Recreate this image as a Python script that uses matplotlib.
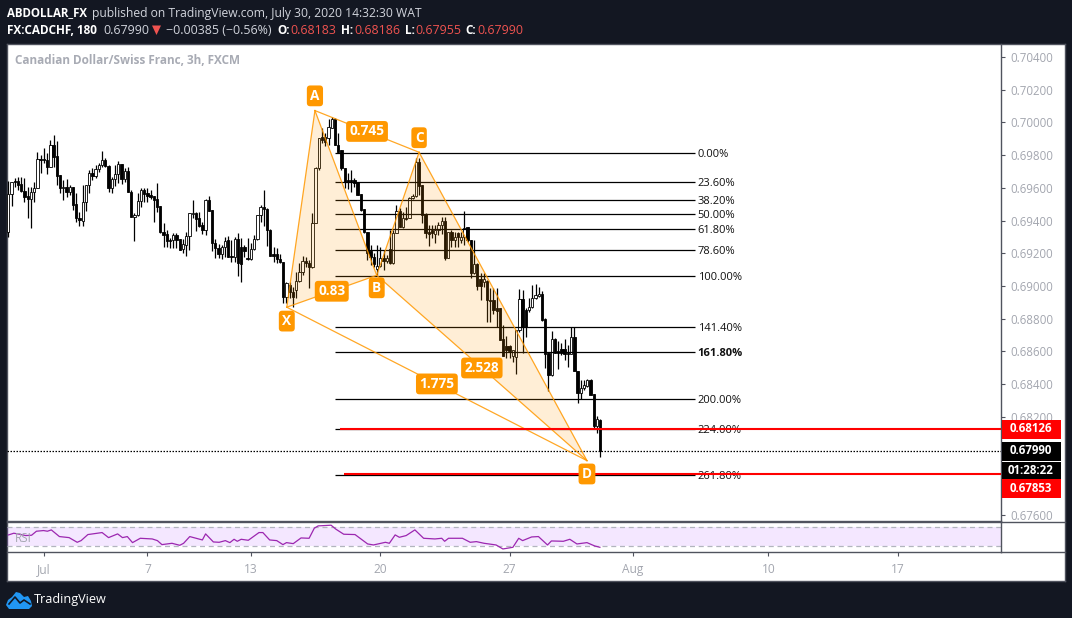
# plot.py - CADCHF 3h chart with harmonic pattern, fib levels and RSI
import matplotlib
matplotlib.use("Agg")
import matplotlib.pyplot as plt
from matplotlib.patches import Rectangle, Polygon

# -------------------------------
# DATA
# -------------------------------
opens = [
    0.69332, 0.69560, 0.69641, 0.69641, 0.69621, 0.69582, 0.69550, 0.69533, 0.69572, 0.69597,
    0.69774, 0.69774, 0.69770, 0.69729, 0.69862, 0.69794, 0.69678, 0.69597, 0.69607, 0.69576,
    0.69605, 0.69501, 0.69413, 0.69399, 0.69511, 0.69615, 0.69688, 0.69674, 0.69713, 0.69739,
    0.69768, 0.69733, 0.69601, 0.69652, 0.69682, 0.69743, 0.69656, 0.69703, 0.69572, 0.69423,
    0.69434, 0.69521, 0.69584, 0.69566, 0.69556, 0.69550, 0.69531, 0.69489, 0.69332, 0.69317,
    0.69281, 0.69279, 0.69309, 0.69285, 0.69224, 0.69250, 0.69303, 0.69442, 0.69446, 0.69413,
    0.69372, 0.69342, 0.69525, 0.69462, 0.69264, 0.69234, 0.69195, 0.69240, 0.69279, 0.69183,
    0.69179, 0.69287, 0.69236, 0.69236, 0.69173, 0.69163, 0.69224, 0.69285, 0.69434, 0.69481,
    0.69470, 0.69342, 0.69193, 0.69193, 0.69163, 0.69148, 0.68934, 0.69006, 0.68965, 0.68975,
    0.69032, 0.69087, 0.69155, 0.69138, 0.69114, 0.69387, 0.69719, 0.69909, 0.69909, 0.69903,
    0.69964, 0.70019, 0.69862, 0.69831, 0.69719, 0.69648, 0.69648, 0.69648, 0.69634, 0.69560,
    0.69470, 0.69328, 0.69214, 0.69179, 0.69104, 0.69124, 0.69169, 0.69152, 0.69224, 0.69138,
    0.69322, 0.69460, 0.69358, 0.69417, 0.69417, 0.69536, 0.69550, 0.69760, 0.69617, 0.69438,
    0.69332, 0.69342, 0.69318, 0.69342, 0.69373, 0.69397, 0.69173, 0.69328, 0.69281, 0.69322,
    0.69281, 0.69301, 0.69359, 0.69282, 0.69078, 0.69133, 0.69043, 0.69027, 0.69033, 0.68915,
    0.68911, 0.68864, 0.68864, 0.68674, 0.68634, 0.68634, 0.68572, 0.68568, 0.68731, 0.68919,
    0.68854, 0.68850, 0.68870, 0.68925, 0.68939, 0.68949, 0.68799, 0.68589, 0.68456, 0.68676,
    0.68605, 0.68613, 0.68613, 0.68593, 0.68585, 0.68686, 0.68483, 0.68348, 0.68375, 0.68391,
    0.68426, 0.68338, 0.68144, 0.68183,
]
closes = [
    0.69560, 0.69633, 0.69633, 0.69617, 0.69582, 0.69546, 0.69533, 0.69572, 0.69597, 0.69774,
    0.69770, 0.69768, 0.69729, 0.69862, 0.69790, 0.69672, 0.69597, 0.69607, 0.69576, 0.69607,
    0.69495, 0.69413, 0.69403, 0.69511, 0.69615, 0.69688, 0.69674, 0.69713, 0.69739, 0.69768,
    0.69733, 0.69601, 0.69656, 0.69682, 0.69743, 0.69656, 0.69701, 0.69572, 0.69423, 0.69434,
    0.69521, 0.69584, 0.69562, 0.69550, 0.69546, 0.69525, 0.69485, 0.69332, 0.69311, 0.69277,
    0.69277, 0.69309, 0.69281, 0.69220, 0.69254, 0.69303, 0.69444, 0.69446, 0.69411, 0.69368,
    0.69342, 0.69525, 0.69460, 0.69264, 0.69234, 0.69195, 0.69240, 0.69277, 0.69179, 0.69179,
    0.69287, 0.69138, 0.69134, 0.69215, 0.69163, 0.69224, 0.69285, 0.69434, 0.69483, 0.69468,
    0.69342, 0.69185, 0.69185, 0.69163, 0.69148, 0.68934, 0.69016, 0.68965, 0.68934, 0.69032,
    0.69087, 0.69155, 0.69138, 0.69114, 0.69387, 0.69719, 0.69903, 0.69892, 0.69882, 0.69970,
    0.70019, 0.69862, 0.69821, 0.69719, 0.69638, 0.69634, 0.69634, 0.69627, 0.69556, 0.69464,
    0.69328, 0.69199, 0.69179, 0.69132, 0.69124, 0.69169, 0.69152, 0.69169, 0.69138, 0.69322,
    0.69460, 0.69362, 0.69413, 0.69409, 0.69536, 0.69550, 0.69760, 0.69613, 0.69434, 0.69322,
    0.69318, 0.69322, 0.69342, 0.69373, 0.69397, 0.69173, 0.69328, 0.69281, 0.69301, 0.69301,
    0.69301, 0.69356, 0.69282, 0.69078, 0.69133, 0.69000, 0.69000, 0.69043, 0.68911, 0.68905,
    0.68850, 0.68848, 0.68670, 0.68574, 0.68609, 0.68605, 0.68609, 0.68731, 0.68919, 0.68752,
    0.68752, 0.68870, 0.68925, 0.68945, 0.68949, 0.68792, 0.68585, 0.68456, 0.68676, 0.68593,
    0.68593, 0.68593, 0.68585, 0.68585, 0.68686, 0.68483, 0.68348, 0.68375, 0.68395, 0.68426,
    0.68334, 0.68144, 0.68185, 0.67990,
]
highs = [
    0.69641, 0.69637, 0.69658, 0.69664, 0.69664, 0.69658, 0.69607, 0.69607, 0.69637, 0.69821,
    0.69800, 0.69841, 0.69811, 0.69892, 0.69923, 0.69886, 0.69678, 0.69648, 0.69652, 0.69617,
    0.69605, 0.69566, 0.69454, 0.69617, 0.69615, 0.69709, 0.69719, 0.69739, 0.69749, 0.69825,
    0.69780, 0.69739, 0.69668, 0.69739, 0.69764, 0.69743, 0.69719, 0.69725, 0.69586, 0.69444,
    0.69566, 0.69597, 0.69601, 0.69597, 0.69586, 0.69550, 0.69627, 0.69489, 0.69383, 0.69342,
    0.69291, 0.69326, 0.69326, 0.69285, 0.69285, 0.69332, 0.69448, 0.69525, 0.69454, 0.69454,
    0.69393, 0.69529, 0.69552, 0.69462, 0.69285, 0.69256, 0.69250, 0.69297, 0.69305, 0.69281,
    0.69301, 0.69326, 0.69291, 0.69250, 0.69291, 0.69260, 0.69311, 0.69434, 0.69495, 0.69586,
    0.69474, 0.69346, 0.69240, 0.69230, 0.69195, 0.69148, 0.69026, 0.69026, 0.68995, 0.69087,
    0.69138, 0.69185, 0.69179, 0.69159, 0.69444, 0.69729, 0.69903, 0.69964, 0.69933, 0.70019,
    0.70035, 0.70025, 0.69933, 0.69831, 0.69719, 0.69688, 0.69709, 0.69658, 0.69634, 0.69560,
    0.69470, 0.69332, 0.69250, 0.69199, 0.69250, 0.69240, 0.69220, 0.69189, 0.69342, 0.69342,
    0.69495, 0.69474, 0.69454, 0.69485, 0.69546, 0.69560, 0.69780, 0.69780, 0.69617, 0.69444,
    0.69373, 0.69373, 0.69373, 0.69393, 0.69423, 0.69423, 0.69332, 0.69342, 0.69332, 0.69332,
    0.69332, 0.69458, 0.69363, 0.69282, 0.69278, 0.69139, 0.69078, 0.69078, 0.69037, 0.68986,
    0.68986, 0.68986, 0.68864, 0.68762, 0.68691, 0.68640, 0.68609, 0.68731, 0.68980, 0.68976,
    0.68864, 0.68925, 0.69006, 0.69013, 0.68992, 0.68970, 0.68803, 0.68589, 0.68725, 0.68680,
    0.68666, 0.68650, 0.68674, 0.68640, 0.68752, 0.68752, 0.68483, 0.68426, 0.68422, 0.68430,
    0.68430, 0.68338, 0.68206, 0.68186,
]
lows = [
    0.69301, 0.69489, 0.69607, 0.69586, 0.69576, 0.69515, 0.69413, 0.69352, 0.69515, 0.69597,
    0.69692, 0.69749, 0.69684, 0.69725, 0.69729, 0.69617, 0.69566, 0.69525, 0.69542, 0.69556,
    0.69464, 0.69393, 0.69368, 0.69368, 0.69460, 0.69566, 0.69648, 0.69658, 0.69699, 0.69729,
    0.69725, 0.69576, 0.69570, 0.69613, 0.69627, 0.69621, 0.69637, 0.69572, 0.69419, 0.69275,
    0.69427, 0.69485, 0.69515, 0.69515, 0.69529, 0.69393, 0.69454, 0.69326, 0.69240, 0.69240,
    0.69234, 0.69230, 0.69230, 0.69220, 0.69199, 0.69185, 0.69220, 0.69413, 0.69338, 0.69362,
    0.69317, 0.69311, 0.69458, 0.69215, 0.69169, 0.69169, 0.69163, 0.69179, 0.69179, 0.69148,
    0.69148, 0.69063, 0.69022, 0.69179, 0.69159, 0.69159, 0.69220, 0.69281, 0.69393, 0.69366,
    0.69246, 0.69185, 0.69148, 0.69138, 0.69142, 0.68898, 0.68894, 0.68924, 0.68873, 0.68924,
    0.69026, 0.69067, 0.69118, 0.68985, 0.69108, 0.69383, 0.69709, 0.69872, 0.69856, 0.69862,
    0.69964, 0.69862, 0.69815, 0.69709, 0.69597, 0.69591, 0.69576, 0.69607, 0.69556, 0.69460,
    0.69322, 0.69159, 0.69128, 0.69118, 0.69067, 0.69118, 0.69098, 0.69138, 0.69134, 0.69134,
    0.69322, 0.69362, 0.69352, 0.69403, 0.69413, 0.69530, 0.69546, 0.69556, 0.69383, 0.69291,
    0.69246, 0.69291, 0.69260, 0.69311, 0.69318, 0.69159, 0.69169, 0.69240, 0.69240, 0.69240,
    0.69260, 0.69250, 0.69271, 0.69047, 0.69074, 0.68976, 0.68911, 0.68996, 0.68782, 0.68782,
    0.68829, 0.68752, 0.68670, 0.68574, 0.68558, 0.68558, 0.68532, 0.68462, 0.68721, 0.68593,
    0.68686, 0.68843, 0.68864, 0.68919, 0.68935, 0.68788, 0.68501, 0.68358, 0.68452, 0.68589,
    0.68491, 0.68578, 0.68548, 0.68503, 0.68583, 0.68483, 0.68283, 0.68307, 0.68364, 0.68385,
    0.68334, 0.68130, 0.68100, 0.67955,
]

# RSI polyline vertices (bar position, value)
rsi_bars = [
    0.1, 1.7, 3.5, 5.4, 7.2, 8.7, 10.9, 12.1, 13.3, 15.8, 18.8, 21.3, 22.5, 24.6, 26.8, 29, 31, 33.8,
    35.3, 36.8, 38.4, 40.8, 44.5, 46.1, 47.5, 50.6, 53, 54.2, 56.1, 60, 61, 63.4, 65.2, 67.1, 68.5,
    69.8, 70.8, 72, 74.2, 77.5, 78.7, 80.8, 83, 84.9, 86, 88.1, 90.5, 93, 94.6, 95.8, 99.8, 101.3,
    103.7, 107.2, 111.1, 112.9, 116.6, 117.8, 119.6, 120.9, 123, 125.7, 128.4, 131.9, 134, 134.9,
    136.1, 140.4, 142.8, 144.7, 147.1, 150.8, 152.9, 156, 157.8, 159, 161.8, 163.9, 166.7, 167.9,
    171.6, 173.6, 175.8, 178.9, 181.3, 182.9,
]
rsi_vals = [
    53.9, 57.4, 55.3, 52.5, 53.2, 61.6, 63, 61.6, 64.4, 50.4, 48.2, 38.4, 41.9, 54.6, 56.7, 58.8, 48.2, 56,
    48.2, 50.4, 37.7, 46.8, 45.4, 41.9, 33.5, 36.3, 32.1, 36.3, 50.4, 43.3, 56, 39.1, 38.4, 41.9, 37.7,
    44.7, 40.5, 44.7, 42.6, 58.8, 58.8, 43.3, 41.9, 33.5, 37.7, 35.6, 47.5, 46.8, 67.9, 72.8, 74.2, 65.8,
    55.3, 54.6, 34.9, 32.8, 38.4, 36.3, 53.9, 48.9, 52.5, 64.4, 46.8, 45.4, 46.8, 40.5,
    46.8, 46.8, 38.4, 39.8, 36.3, 32.8, 24.4, 27.9, 46.8, 41.9, 49.6, 50.4, 32.8, 41.2,
    40.5, 44.7, 34.9, 37.7, 30.7, 27.9,
]

# harmonic pattern points X A B C D
pattern_bars = [86.1, 94.8, 113.9, 127.0, 178.9]
pattern_prices = [0.68870, 0.70072, 0.69065, 0.69817, 0.67932]
pattern_names = ["X", "A", "B", "C", "D"]
ratio_labels = ["0.83", "0.745", "2.528", "1.775"]

# fib levels
fib_labels = ["0.00%", "23.60%", "38.20%", "50.00%", "61.80%", "78.60%", "100.00%",
              "141.40%", "161.80%", "200.00%", "224.00%", "261.80%"]
fib_prices = [0.69813, 0.69636, 0.69526, 0.69437, 0.69348, 0.69222, 0.69061,
              0.68750, 0.68596, 0.68309, 0.68128, 0.67844]
fib_start = 101.0
fib_end = 212.2

price_ticks = [0.676, 0.678, 0.680, 0.682, 0.684, 0.686, 0.688, 0.690,
               0.692, 0.694, 0.696, 0.698, 0.700, 0.702, 0.704]
# these two sit fully behind the price tags
hidden_ticks = [0.678, 0.680]
date_ticks = [11, 43, 75, 115, 155, 193, 235, 275]
date_labels = ["Jul", "7", "13", "20", "27", "Aug", "10", "17"]

last_price = 0.67990
red_lines = [0.68126, 0.67853]
red_starts = [102.5, 103.8]

DARK = "#131722"
FRAME = "#50535e"
GREY = "#a3a6af"
ORANGE = "#ff9800"
FONT = "Open Sans"

# -------------------------------
# FIGURE + AXES
# -------------------------------
W, H = 1072, 618
fig = plt.figure(figsize=(W / 100, H / 100), dpi=100, facecolor=DARK)
plt.rcParams["font.family"] = FONT


def box(x0, y0, x1, y1):
    return [x0 / W, 1 - y1 / H, (x1 - x0) / W, (y1 - y0) / H]


# white panel behind everything
panel = fig.add_axes(box(7, 44, 1065, 581), facecolor="white")
panel.set_xticks([])
panel.set_yticks([])
for s in panel.spines.values():
    s.set_color(FRAME)
    s.set_linewidth(1)

ax = fig.add_axes(box(7, 44, 1001, 521), facecolor="none")
ax_rsi = fig.add_axes(box(7, 521.5, 1001, 552.3), facecolor="none")

xlim = (-0.4, 306.9)
ax.set_xlim(xlim)
ax.set_ylim(0.67563, 0.70479)
ax_rsi.set_xlim(xlim)
ax_rsi.set_ylim(17.4, 82)

# -------------------------------
# PRICE PANE
# -------------------------------
ax.set_xticks([])
ax.yaxis.tick_right()
ax.set_yticks(price_ticks)
ax.set_yticklabels(["" if p in hidden_ticks else f"{p:.5f}" for p in price_ticks], fontsize=8.3, color=GREY)
ax.tick_params(axis="y", length=3, width=0.8, color=FRAME, pad=4)
for name, s in ax.spines.items():
    s.set_visible(name in ("right", "bottom"))
    s.set_color(FRAME)
    s.set_linewidth(1)

# candles
for i in range(len(opens)):
    o, h, l, c = opens[i], highs[i], lows[i], closes[i]
    ax.vlines(i, l, h, color="black", linewidth=0.9, zorder=2)
    face = "white" if c >= o else "black"
    ax.bar(i, abs(c - o), bottom=min(o, c), width=0.72, facecolor=face,
           edgecolor="black", linewidth=0.6, zorder=3)

# fib levels
for lab, p in zip(fib_labels, fib_prices):
    ax.hlines(p, fib_start, fib_end, color="black", linewidth=0.9, zorder=4)
    ax.annotate(lab, (fib_end, p), xytext=(2.2, -1.1), textcoords="offset points", va="center", ha="left",
                fontsize=8.0, color="#111111", zorder=5,
                fontweight="bold" if lab == "161.80%" else "normal")

# last price + red lines
ax.axhline(last_price, color="black", linewidth=0.9, linestyle=(0, (1.2, 1.2)), zorder=4)
for p, st in zip(red_lines, red_starts):
    ax.hlines(p, st, xlim[1], color="#ff0000", linewidth=1.5, zorder=8)

# pattern
xs, ys = pattern_bars, pattern_prices
ax.fill([xs[0], xs[1], xs[2]], [ys[0], ys[1], ys[2]], color=ORANGE, alpha=0.16, linewidth=0, zorder=6)
ax.fill([xs[2], xs[3], xs[4]], [ys[2], ys[3], ys[4]], color=ORANGE, alpha=0.16, linewidth=0, zorder=6)
for a, b in [(0, 1), (1, 2), (2, 0), (2, 3), (3, 4), (4, 2), (1, 3), (0, 4)]:
    ax.plot([xs[a], xs[b]], [ys[a], ys[b]], color=ORANGE, linewidth=0.9, alpha=0.85, zorder=7)

# ratio pills sit halfway along their legs
pill_style = dict(boxstyle="round,pad=0.25,rounding_size=0.25", facecolor=ORANGE, edgecolor="none")
for lab, (a, b) in zip(ratio_labels, [(0, 2), (1, 3), (2, 4), (0, 4)]):
    ax.text((xs[a] + xs[b]) / 2, (ys[a] + ys[b]) / 2, lab, ha="center", va="center", color="white",
            fontsize=9.8, fontweight="bold", bbox=pill_style, zorder=9)

# point letters, offset in points away from the vertex
letter_offsets = [(0, -10), (0, 10.6), (0, -9), (0, 10.5), (0, -9.6)]
for name, px, py, off in zip(pattern_names, xs, ys, letter_offsets):
    ax.annotate(name, (px, py), xytext=off, textcoords="offset points", ha="center", va="center",
                color="white", fontsize=9.8, fontweight="bold", bbox=pill_style, zorder=9)

# -------------------------------
# RSI PANE
# -------------------------------
ax_rsi.axhspan(30, 70, color="#9915ff", alpha=0.1, linewidth=0)
ax_rsi.axhline(70, color="#b2b5be", linewidth=0.9, linestyle=(0, (4, 3)))
ax_rsi.axhline(30, color="#b2b5be", linewidth=0.9, linestyle=(0, (4, 3)))
ax_rsi.plot(rsi_bars, rsi_vals, color="#9c27b0", linewidth=0.9)
ax_rsi.text(0.008, 0.44, "RSI", transform=ax_rsi.transAxes, color=GREY, fontsize=8.5, va="center", ha="left")
ax_rsi.set_yticks([])
ax_rsi.set_xticks(date_ticks)
ax_rsi.set_xticklabels(date_labels, fontsize=8.6, color=GREY)
ax_rsi.tick_params(axis="x", length=3, width=0.8, color=FRAME, pad=5)
for name, s in ax_rsi.spines.items():
    s.set_color(FRAME)
    s.set_linewidth(1)
    s.set_visible(name != "left")

# separator across the price axis column
panel_line_y = [521.5, 552.3]

# -------------------------------
# OVERLAY (header, axis boxes, logo)
# -------------------------------
ov = fig.add_axes([0, 0, 1, 1], facecolor="none")
ov.set_xlim(0, W)
ov.set_ylim(H, 0)
ov.axis("off")

for yy in panel_line_y:
    ov.plot([1001, 1065], [yy, yy], color=FRAME, linewidth=1)

tag_rows = [("0.68126", 420, 439, "#ff0000"), ("0.67990", 442, 461, "#000000"),
            ("01:28:22", 462, 479, "#000000"), ("0.67853", 479, 498, "#ff0000")]
for txt, y0, y1, col in tag_rows:
    ov.add_patch(Rectangle((1001.5, y0), 59.5, y1 - y0, facecolor=col, edgecolor="none"))
    ov.text(1031, (y0 + y1) / 2 - 0.5, txt, color="white", fontsize=8.3, fontweight="bold",
            ha="center", va="center")

ov.text(7, 13, "ABDOLLAR_FX", color="white", fontsize=8.3, fontweight="bold", va="center")
ov.text(92, 13, "published on TradingView.com, July 30, 2020 14:32:30 WAT", color="#d1d4dc",
        fontsize=8.77, va="center")

header_bits = [
    (7, "FX:CADCHF, 180", "white", "bold", 8.45), (103, "0.67990", "#d1d4dc", "normal", 8.9),
    (166, "\u22120.00385 (\u22120.56%)", "#d1d4dc", "normal", 8.9),
    (277, "O:", "white", "bold", 8.45), (290, "0.68183", "#ef5350", "normal", 8.9),
    (341, "H:", "white", "bold", 8.45), (354, "0.68186", "#ef5350", "normal", 8.9),
    (405, "L:", "white", "bold", 8.45), (415, "0.67955", "#ef5350", "normal", 8.9),
    (465, "C:", "white", "bold", 8.45), (477, "0.67990", "#ef5350", "normal", 8.9),
]
for x0, txt, col, wt, sz in header_bits:
    ov.text(x0, 30, txt, color=col, fontsize=sz, fontweight=wt, va="center")
ov.add_patch(Polygon([(152, 25.5), (161, 25.5), (156.5, 35)], facecolor="#ef5350", edgecolor="none"))

ov.text(15, 60, "Canadian Dollar/Swiss Franc, 3h, FXCM", color="#a8abb4", fontsize=8.5,
        fontweight="bold", va="center")

# logo
cloud = [(6, 605), (8, 600), (12, 597), (16, 592), (20, 593), (24, 597), (28, 596), (31, 601), (32, 606),
         (29, 609), (9, 609)]
ov.add_patch(Polygon(cloud, facecolor="#2196f3", edgecolor="none"))
ov.plot([9, 15, 20, 24, 30], [604, 597, 603, 600, 604], color=DARK, linewidth=1.2)
ov.text(34, 600, "TradingView", color="white", fontsize=9.1, va="center")

fig.savefig("out.png", dpi=100, facecolor=fig.get_facecolor())
